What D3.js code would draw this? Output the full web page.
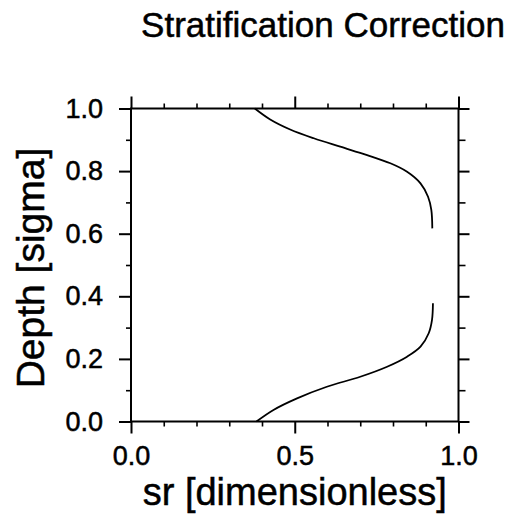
<!DOCTYPE html>
<html>
<head>
<meta charset="utf-8">
<script src="https://cdn.jsdelivr.net/npm/d3@7"></script>
<style>
  html, body { margin: 0; padding: 0; background: #fff; }
  svg { display: block; font-family: "Liberation Sans", Arial, Helvetica, sans-serif; }
  text { stroke: #000; stroke-width: 0.5px; }
</style>
</head>
<body>
<svg id="chart" width="512" height="526"></svg>
<script>
// Stratification correction profile: sr against sigma depth (two branches)
const upperDepth = [1.0, 0.965, 0.933, 0.905, 0.878, 0.851, 0.825, 0.798, 0.761, 0.718, 0.676, 0.617];
const upperSr    = [0.378, 0.425, 0.486, 0.558, 0.639, 0.721, 0.792, 0.843, 0.884, 0.907, 0.917, 0.920];
const lowerDepth = [0.0, 0.037, 0.074, 0.111, 0.143, 0.175, 0.207, 0.239, 0.282, 0.324, 0.378];
const lowerSr    = [0.383, 0.435, 0.507, 0.598, 0.700, 0.782, 0.843, 0.884, 0.909, 0.919, 0.922];

const xMajorTicks = [0, 0.5, 1.0];
const xMinorTicks = [0.1, 0.2, 0.3, 0.4, 0.6, 0.7, 0.8, 0.9];
const yMajorTicks = [0, 0.2, 0.4, 0.6, 0.8, 1.0];
const yMinorTicks = [0.1, 0.3, 0.5, 0.7, 0.9];

const titleText = "Stratification Correction";
const xLabel = "sr [dimensionless]";
const yLabel = "Depth [sigma]";

const svg = d3.select("#chart");
const plotLeft = 131, plotRight = 458.5, plotTop = 108.5, plotBottom = 421.5;

const x = d3.scaleLinear().domain([0, 1]).range([plotLeft, plotRight]);
const y = d3.scaleLinear().domain([0, 1]).range([plotBottom, plotTop]);

const fmt = d3.format(".1f");

function styleAxis(g, width) {
  g.select(".domain").remove();
  g.selectAll(".tick line").attr("stroke", "#000").attr("stroke-width", width);
  g.selectAll(".tick text").attr("fill", "#000").attr("font-size", 27);
}

// Bottom axis
svg.append("g").attr("transform", `translate(0,${plotBottom})`)
  .call(d3.axisBottom(x).tickValues(xMajorTicks).tickFormat(fmt).tickSize(12).tickPadding(12))
  .call(g => styleAxis(g, 2));
svg.append("g").attr("transform", `translate(0,${plotBottom})`)
  .call(d3.axisBottom(x).tickValues(xMinorTicks).tickFormat("").tickSize(5))
  .call(g => styleAxis(g, 1.6));

// Top axis (ticks only)
svg.append("g").attr("transform", `translate(0,${plotTop})`)
  .call(d3.axisTop(x).tickValues(xMajorTicks).tickFormat("").tickSize(12))
  .call(g => styleAxis(g, 2));
svg.append("g").attr("transform", `translate(0,${plotTop})`)
  .call(d3.axisTop(x).tickValues(xMinorTicks).tickFormat("").tickSize(5))
  .call(g => styleAxis(g, 1.6));

// Left axis
svg.append("g").attr("transform", `translate(${plotLeft},0)`)
  .call(d3.axisLeft(y).tickValues(yMajorTicks).tickFormat(fmt).tickSize(12).tickPadding(16))
  .call(g => styleAxis(g, 2));
svg.append("g").attr("transform", `translate(${plotLeft},0)`)
  .call(d3.axisLeft(y).tickValues(yMinorTicks).tickFormat("").tickSize(5))
  .call(g => styleAxis(g, 1.6));

// Right axis (ticks only)
svg.append("g").attr("transform", `translate(${plotRight},0)`)
  .call(d3.axisRight(y).tickValues(yMajorTicks).tickFormat("").tickSize(11))
  .call(g => styleAxis(g, 2));
svg.append("g").attr("transform", `translate(${plotRight},0)`)
  .call(d3.axisRight(y).tickValues(yMinorTicks).tickFormat("").tickSize(7))
  .call(g => styleAxis(g, 1.6));

// Frame
svg.append("rect")
  .attr("x", plotLeft).attr("y", plotTop)
  .attr("width", plotRight - plotLeft).attr("height", plotBottom - plotTop)
  .attr("fill", "none").attr("stroke", "#000").attr("stroke-width", 2);

// Profile branches
const line = d3.line()
  .x(d => x(d[0])).y(d => y(d[1]))
  .curve(d3.curveCatmullRom.alpha(0.5));

[[upperSr, upperDepth], [lowerSr, lowerDepth]].forEach(([sr, depth]) => {
  svg.append("path")
    .datum(sr.map((v, i) => [v, depth[i]]))
    .attr("d", line)
    .attr("fill", "none")
    .attr("stroke", "#000")
    .attr("stroke-width", 1.8);
});

// Title and axis labels
svg.append("text")
  .attr("x", 323).attr("y", 37)
  .attr("text-anchor", "middle")
  .attr("font-size", 35)
  .attr("fill", "#000")
  .text(titleText);

svg.append("text")
  .attr("x", (plotLeft + plotRight) / 2).attr("y", 505)
  .attr("text-anchor", "middle")
  .attr("font-size", 38)
  .attr("fill", "#000")
  .text(xLabel);

svg.append("text")
  .attr("transform", `translate(43.5,${(plotTop + plotBottom) / 2 + 3}) rotate(-90)`)
  .attr("text-anchor", "middle")
  .attr("font-size", 39)
  .attr("fill", "#000")
  .text(yLabel);
</script>
</body>
</html>
